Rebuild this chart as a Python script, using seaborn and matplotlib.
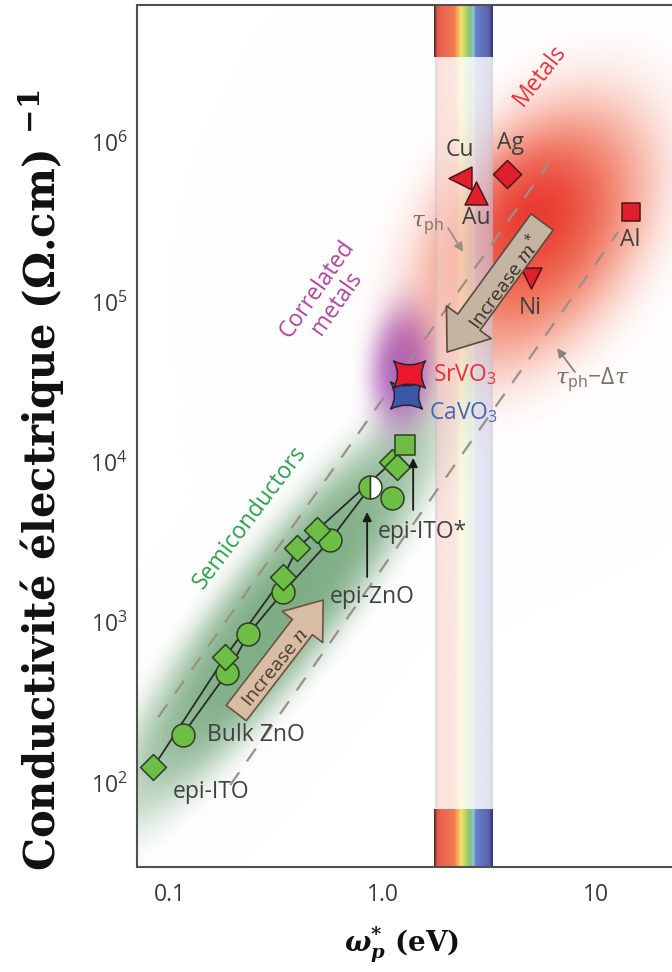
import numpy as np
import matplotlib
matplotlib.use("Agg")
import matplotlib.pyplot as plt
import matplotlib.ticker as ticker
import seaborn as sns
from matplotlib.path import Path
from matplotlib.patches import FancyArrowPatch
from matplotlib.colors import LinearSegmentedColormap, to_rgb

# ---- data (plasma energy in eV, conductivity in S/cm) ----
ito_x = [0.084, 0.182, 0.341, 0.397, 0.492, 1.105, 1.167]
ito_y = [126, 611, 1930, 2920, 3790, 10070, 9370]
zno_x = [0.115, 0.186, 0.234, 0.341, 0.566, 0.872]
zno_y = [200, 486, 851, 1556, 3281, 7030]
zno_extra_x = [1.105]
zno_extra_y = [6000]
ito_star_x = [1.272]
ito_star_y = [12850]

metal_names = ["Cu", "Au", "Ag", "Al", "Ni"]
metal_x = [2.30, 2.74, 3.82, 14.6, 4.95]
metal_y = [5.96e5, 4.81e5, 6.31e5, 3.66e5, 1.42e5]
metal_markers = ["<", "^", "D", "s", "v"]
metal_sizes = [16.5, 16.5, 14.3, 13.0, 15.0]

oxide_names = ["CaVO$_{\\mathdefault{3}}$", "SrVO$_{\\mathdefault{3}}$"]
oxide_x = [1.286, 1.328]
oxide_y = [2.64e4, 3.56e4]
oxide_colors = ["#3a58a8", "#e8192c"]

# scattering-time guide lines (tau_ph and tau_ph - dtau)
tau_x = [0.0885, 6.02]
tau_y = [258, 7.4e5]
tau2_x = [0.1925, 12.66]
tau2_y = [97.2, 2.74e5]

# visible range (eV)
visible = [1.74, 3.29]

xtick_vals = [0.1, 1.0, 10.0]
xtick_labels = ["0.1", "1.0", "10"]

xlim = (0.0703, 22.7)
ylim = (29.8, 7.16e6)

# ---- style ----
sns.set_theme(style="white")
plt.rcParams["font.family"] = ["Open Sans", "DejaVu Sans"]
plt.rcParams["mathtext.fontset"] = "custom"
plt.rcParams["mathtext.rm"] = "Open Sans"
plt.rcParams["mathtext.it"] = "DejaVu Serif:italic"
plt.rcParams["mathtext.bf"] = "DejaVu Serif:bold"
plt.rcParams["mathtext.bfit"] = "DejaVu Serif:italic:bold"

fig = plt.figure(figsize=(6.72, 9.72), dpi=100)
pos = [137 / 672, (972 - 867.3) / 972, (672 - 137) / 672, (867.3 - 5) / 972]

# background axes in log10 units for the blurred regions and the spectrum band
bg = fig.add_axes(pos, zorder=0)
lx0, lx1 = np.log10(xlim)
ly0, ly1 = np.log10(ylim)
bg.set_xlim(lx0, lx1)
bg.set_ylim(ly0, ly1)
bg.axis("off")

W = pos[2] * 672
H = pos[3] * 972
ppx = W / (lx1 - lx0)  # pixels per decade in x
ppy = H / (ly1 - ly0)

nx, ny = 540, 870
gx = np.linspace(lx0, lx1, nx)
gy = np.linspace(ly1, ly0, ny)
LX, LY = np.meshgrid(gx, gy)
SX, SY = LX * ppx, LY * ppy

# blobs: (center eV, center S/cm, half-axes px, angle deg, colour, max alpha, power)
blobs = [
    (0.33, 1170, 250, 56, 52, "#4e8f58", 0.72, 2.0),
    (1.245, 3.94e4, 62, 32, 85, "#a04cb4", 0.85, 1.5),
    (5.28, 2.63e5, 150, 95, 55, "#ef6442", 0.88, 1.6),
    (5.18, 3.4e5, 70, 55, 55, "#e4141a", 0.6, 1.0),
]
rgb = np.ones((ny, nx, 3))
for cx, cy, a, b, ang, col, amax, p in blobs:
    dx = SX - np.log10(cx) * ppx
    dy = SY - np.log10(cy) * ppy
    t = np.deg2rad(ang)
    u = dx * np.cos(t) + dy * np.sin(t)
    v = -dx * np.sin(t) + dy * np.cos(t)
    r2 = (u / a) ** 2 + (v / b) ** 2
    alpha = amax * np.exp(-(r2 ** p))
    rgb = rgb * (1 - alpha[..., None]) + np.array(to_rgb(col)) * alpha[..., None]
bg.imshow(rgb, extent=[lx0, lx1, ly0, ly1], origin="upper", aspect="auto",
          interpolation="bilinear", zorder=0)

spec = LinearSegmentedColormap.from_list("spec", [
    (0.00, "#3a2626"), (0.05, "#d85646"), (0.12, "#ec6450"), (0.34, "#f07a50"),
    (0.40, "#f4b050"), (0.46, "#f2e070"), (0.53, "#b8d868"), (0.61, "#86c274"),
    (0.67, "#8cc8d8"), (0.71, "#6a80c8"), (0.93, "#5a64b0"), (1.00, "#34306c")])
grad = np.linspace(0, 1, 256)[None, :]
bx0, bx1 = np.log10(visible)
strip_top = np.log10(3.39e6)
strip_bot = np.log10(67.9)
bg.imshow(grad, cmap=spec, extent=[bx0, bx1, strip_top, ly1], aspect="auto", zorder=2)
bg.imshow(grad, cmap=spec, extent=[bx0, bx1, ly0, strip_bot], aspect="auto", zorder=2)
pale = spec(grad)[..., :3] * 0.3 + 0.7
pale_rgba = np.dstack([pale, np.full(pale.shape[:2], 0.6)])
bg.imshow(pale_rgba, extent=[bx0 + 0.004, bx1 - 0.004, strip_bot, strip_top],
          aspect="auto", zorder=1)

# main log axes
ax = fig.add_axes(pos, zorder=1)
ax.patch.set_alpha(0)
ax.set_xscale("log")
ax.set_yscale("log")
ax.set_xlim(xlim)
ax.set_ylim(ylim)

dash = dict(color="#9a9088", lw=1.6, dashes=(7, 6), zorder=2)
ax.plot(tau_x, tau_y, **dash)
ax.plot(tau2_x, tau2_y, **dash)

# connecting curves
sns.lineplot(x=ito_x[:6], y=ito_y[:6], sort=False, estimator=None, color="#2a2a2a",
             lw=1.3, ax=ax, zorder=3)
sns.lineplot(x=zno_x, y=zno_y, sort=False, estimator=None, color="#2a2a2a",
             lw=1.3, ax=ax, zorder=3)

green = "#6cbe45"
gedge = "#2e3e22"
sns.scatterplot(x=zno_x[:-1] + zno_extra_x, y=zno_y[:-1] + zno_extra_y, marker="o",
                s=16.5 ** 2, color=green, edgecolor=gedge, linewidth=1.1, ax=ax, zorder=4)
ax.plot(zno_x[-1:], zno_y[-1:], "o", ms=16.5, mfc=green, mfcalt="white", fillstyle="left",
        mec=gedge, mew=1.1, zorder=4)
sns.scatterplot(x=ito_x, y=ito_y, marker="D", s=13.2 ** 2, color=green, edgecolor=gedge,
                linewidth=1.1, ax=ax, zorder=5)
sns.scatterplot(x=ito_star_x, y=ito_star_y, marker="s", s=14.4 ** 2, color=green,
                edgecolor=gedge, linewidth=1.1, ax=ax, zorder=5)

for xm, ym, mk, ms in zip(metal_x, metal_y, metal_markers, metal_sizes):
    sns.scatterplot(x=[xm], y=[ym], marker=mk, s=ms ** 2, color="#e01e2c",
                    edgecolor="#4a1418", linewidth=1.1, ax=ax, zorder=5)

# concave square marker for the vanadates
k = 0.5
verts = [(-1, -0.85), (0, -0.85 + k), (1, -0.85), (1 - k, 0), (1, 0.85),
         (0, 0.85 - k), (-1, 0.85), (-1 + k, 0), (-1, -0.85), (-1, -0.85)]
codes = [Path.MOVETO] + [Path.CURVE3] * 8 + [Path.CLOSEPOLY]
star = Path(verts, codes)
for xo, yo, co in zip(oxide_x, oxide_y, oxide_colors):
    sns.scatterplot(x=[xo], y=[yo], marker=star, s=23 ** 2, color=co,
                    edgecolor="#2a2030", linewidth=1.1, ax=ax, zorder=6)

# ---- annotations ----
txt = "#404040"
fs = 16.5
for name, xm, xl, yl in zip(metal_names, metal_x, [2.30, 2.74, 3.95, 14.4, 4.90],
                            [8.9e5, 3.36e5, 9.86e5, 2.44e5, 9.2e4]):
    ax.text(xl, yl, name, fontsize=fs, color=txt, ha="center", va="center", zorder=7)
ax.text(1.72, 3.52e4, oxide_names[1], fontsize=fs, color="#e8303a", ha="left", va="center", zorder=7)
ax.text(1.648, 2.04e4, oxide_names[0], fontsize=fs, color="#4a64b4", ha="left", va="center", zorder=7)
ax.text(0.150, 199.5, "Bulk ZnO", fontsize=fs, color=txt, ha="left", va="center", zorder=7)
ax.text(0.103, 87.9, "epi-ITO", fontsize=fs, color=txt, ha="left", va="center", zorder=7)
ax.text(0.566, 1449, "epi-ZnO", fontsize=fs, color=txt, ha="left", va="center", zorder=7)
ax.text(0.951, 3682, "epi-ITO*", fontsize=fs, color=txt, ha="left", va="center", zorder=7)

rot = dict(ha="center", va="center", rotation_mode="anchor", zorder=7)
ax.text(5.46, 2.62e6, "Metals", fontsize=fs, color="#e8303a", rotation=52, **rot)
ax.text(0.548, 1.094e5, "Correlated\nmetals", fontsize=fs, color="#b0449e", rotation=55,
        linespacing=1.0, **rot)
ax.text(0.239, 4510, "Semiconductors", fontsize=fs, color="#2e9e4e", rotation=53, **rot)

ax.text(1.613, 3.03e5, r"$\tau_{\mathdefault{ph}}$", fontsize=fs, color="#7a726a",
        ha="center", va="center", zorder=7)
ax.text(9.57, 3.27e4, r"$\tau_{\mathdefault{ph}}\mathdefault{-}\Delta\tau$", fontsize=fs,
        color="#7a726a", ha="center", va="center", zorder=7)

small = dict(arrowstyle="-|>", lw=1.3, mutation_scale=13, shrinkA=0, shrinkB=0)
ax.annotate("", xy=(2.378, 2.06e5), xytext=(2.023, 2.9e5),
            arrowprops=dict(color="#9a9088", **small), zorder=7)
ax.annotate("", xy=(6.56, 5.18e4), xytext=(7.96, 3.67e4),
            arrowprops=dict(color="#8a827a", **small), zorder=7)
ax.annotate("", xy=(0.844, 4909), xytext=(0.844, 1928),
            arrowprops=dict(color="#1a1a1a", **small), zorder=7)
ax.annotate("", xy=(1.387, 1.067e4), xytext=(1.387, 5058),
            arrowprops=dict(color="#1a1a1a", **small), zorder=7)

arr_n = FancyArrowPatch((0.2054, 273.6), (0.525, 1387),
                        arrowstyle="simple,head_length=0.7,head_width=1.05,tail_width=0.52",
                        mutation_scale=35, fc="#d8bca4", ec="#6a5444", lw=1.2,
                        shrinkA=0, shrinkB=0, zorder=6)
ax.add_patch(arr_n)
ax.text(0.3129, 522, r"Increase $n$", fontsize=14, color="#4a3a30", rotation=51, **rot)

arr_m = FancyArrowPatch((5.58, 3.17e5), (2.0, 4.89e4),
                        arrowstyle="simple,head_length=0.7,head_width=1.05,tail_width=0.52",
                        mutation_scale=38, fc="#c6b4a2", ec="#5a4a40", lw=1.2,
                        shrinkA=0, shrinkB=0, zorder=6)
ax.add_patch(arr_m)
ax.text(3.742, 1.337e5, r"Increase $m^{*}$", fontsize=14, color="#3a3028", rotation=54, **rot)

# ---- axes styling ----
ax.set_xticks(xtick_vals, xtick_labels)
ax.xaxis.set_minor_formatter(ticker.NullFormatter())
ax.yaxis.set_major_locator(ticker.LogLocator(base=10))
ax.yaxis.set_minor_locator(ticker.LogLocator(base=10, subs=np.arange(2, 10)))
ax.yaxis.set_minor_formatter(ticker.NullFormatter())
ax.tick_params(which="major", direction="in", length=15.8, width=1.1, color="#555555",
               labelsize=16.5, labelcolor="#3a3a3a", top=False, right=False)
ax.tick_params(which="minor", direction="in", length=8.6, width=1.0, color="#555555",
               top=False, right=False)
ax.tick_params(axis="y", which="major", pad=7)
ax.tick_params(axis="x", which="major", pad=11)
for s in ["left", "bottom", "top"]:
    ax.spines[s].set_color("#505050")
    ax.spines[s].set_linewidth(1.5)
ax.spines["right"].set_visible(False)

ax.set_ylabel("Conductivité électrique (Ω.cm) " + r"$^{\mathbf{-1}}$", family="DejaVu Serif",
              fontweight="bold", fontsize=30, color="#111111", va="center")
ax.yaxis.set_label_coords((42 - 137) / W, (867.3 - 480) / H)
ax.set_xlabel(r"$\mathbfit{\omega}_{\mathbfit{p}}^{\mathbf{*}}$ (eV)", family="DejaVu Serif",
              fontweight="bold", fontsize=20, color="#111111", va="center")
ax.xaxis.set_label_coords((402 - 137) / W, (867.3 - 945) / H)

fig.savefig("out.png", dpi=100)
